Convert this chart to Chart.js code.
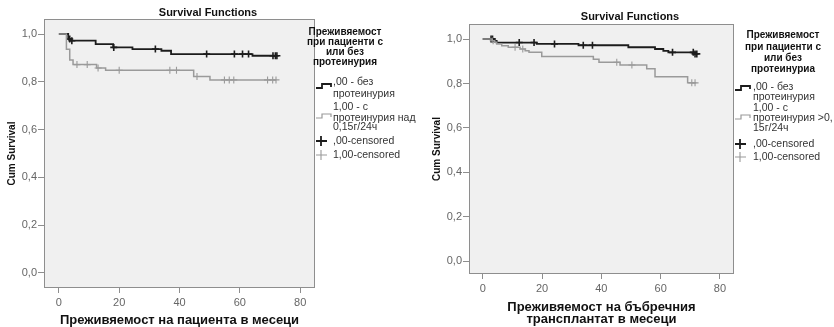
<!DOCTYPE html>
<html>
<head>
<meta charset="utf-8">
<script src="https://cdn.jsdelivr.net/npm/chart.js@4.4.1/dist/chart.umd.min.js"></script>
<style>
  html, body { margin: 0; padding: 0; background: #fff; }
  #wrap { position: relative; width: 834px; height: 327px; overflow: hidden; }
  canvas { position: absolute; top: 0; }
</style>
</head>
<body>
<div id="wrap">
  <canvas id="patient" width="417" height="327" style="left:0"></canvas>
  <canvas id="graft" width="417" height="327" style="left:417px"></canvas>
</div>
<script>
// ---- Kaplan–Meier estimates (time in months, cumulative survival after each step) ----

// Patient survival, group ,00 (no proteinuria)
const patientNoTimes = [0, 3.1, 4.0, 12.2, 18.0, 24.4, 34.0, 37.2, 64.2, 72.3];
const patientNoSurv  = [1.0, 0.979, 0.972, 0.958, 0.944, 0.937, 0.930, 0.916, 0.909, 0.909];
const patientNoCensored = [3.6, 4.3, 18.2, 32.0, 49.0, 58.2, 60.9, 62.9, 71.0, 71.8, 72.3];

// Patient survival, group 1,00 (proteinuria > 0,15 g/24h)
const patientYesTimes = [0, 2.5, 3.6, 4.7, 12.5, 15.5, 44.7, 50.1, 72.0];
const patientYesSurv  = [1.0, 0.936, 0.891, 0.872, 0.858, 0.848, 0.822, 0.808, 0.808];
const patientYesCensored = [6.0, 9.4, 13.0, 20.0, 36.8, 39.0, 45.8, 54.9, 56.5, 58.0, 69.2, 70.9, 72.0];

// Graft survival, group ,00
const graftNoTimes = [0, 3.8, 4.7, 18.2, 32.3, 49.1, 58.1, 60.9, 62.6, 71.2, 72.2];
const graftNoSurv  = [1.0, 0.992, 0.984, 0.978, 0.972, 0.963, 0.955, 0.947, 0.940, 0.933, 0.933];
const graftNoCensored = [2.8, 3.3, 12.3, 17.3, 24.2, 33.9, 37.0, 64.0, 71.0, 71.6, 72.2];

// Graft survival, group 1,00
const graftYesTimes = [0, 3.2, 4.0, 4.7, 6.4, 8.6, 12.6, 14.3, 15.6, 19.9, 37.3, 39.2, 46.3, 55.3, 58.1, 69.1, 72.0];
const graftYesSurv  = [1.0, 0.992, 0.985, 0.978, 0.970, 0.963, 0.955, 0.947, 0.940, 0.921, 0.909, 0.895, 0.883, 0.866, 0.830, 0.803, 0.803];
const graftYesCensored = [3.5, 10.9, 13.5, 45.2, 50.3, 70.5, 71.6];

// ---- Axis ticks ----
const yTickValues = [0, 0.2, 0.4, 0.6, 0.8, 1.0];
const yTickLabels = ['0,0', '0,2', '0,4', '0,6', '0,8', '1,0'];
const xTickValues = [0, 20, 40, 60, 80];
const xTickLabels = ['0', '20', '40', '60', '80'];

// ---- Texts ----
const chartTitle = 'Survival Functions';
const yAxisTitle = 'Cum Survival';
const patientXTitle = 'Преживяемост на пациента в месеци';
const graftXTitle = ['Преживяемост на бъбречния', 'трансплантат в месеци'];
const patientLegendTitle = ['Преживяемост', 'при пациенти с', 'или без', 'протеинурия'];
const graftLegendTitle = ['Преживяемост', 'при пациенти с', 'или без', 'протеинуриа'];
const patientLegendItems = [[',00 - без', 'протеинурия'], ['1,00 - с', 'протеинурия над', '0,15г/24ч'], [',00-censored'], ['1,00-censored']];
const graftLegendItems = [[',00 - без', 'протеинурия'], ['1,00 - с', 'протеинурия >0,', '15г/24ч'], [',00-censored'], ['1,00-censored']];

const FONT = '"Liberation Sans", Arial, sans-serif';
const DARK = '#1c1c1c';
const LIGHT = '#9a9a9a';

function stepPoints(times, surv) {
  return times.map((t, i) => ({ x: t, y: surv[i] }));
}
// survival level in effect at time t (value of the step function)
function levelAt(times, surv, t) {
  let s = surv[0];
  for (let i = 0; i < times.length; i++) if (times[i] <= t) s = surv[i];
  return s;
}
function censorPoints(times, surv, cens) {
  return cens.map(t => ({ x: t, y: levelAt(times, surv, t) }));
}

// plot background, frame, title and legend
const decorPlugin = {
  id: 'decor',
  beforeDraw(chart, args, o) {
    const { ctx, chartArea: a } = chart;
    ctx.save();
    ctx.fillStyle = '#f0f0f0';
    ctx.fillRect(a.left, a.top, a.right - a.left, a.bottom - a.top);
    ctx.restore();
  },
  afterDraw(chart, args, o) {
    const { ctx, chartArea: a } = chart;
    ctx.save();
    ctx.strokeStyle = '#8e8e8e';
    ctx.lineWidth = 1;
    ctx.strokeRect(a.left - 0.5, a.top - 0.5, a.right - a.left + 1, a.bottom - a.top + 1);

    ctx.fillStyle = '#111';
    ctx.font = 'bold 11px ' + FONT;
    ctx.textAlign = 'center';
    ctx.textBaseline = 'middle';
    ctx.fillText(chartTitle, o.titleX, o.titleY);

    ctx.font = 'bold 10px ' + FONT;
    o.legendTitle.forEach((t, i) => ctx.fillText(t, o.legendX, o.legendTitleY[i]));

    ctx.textAlign = 'left';
    ctx.font = '10.5px ' + FONT;
    ctx.fillStyle = '#333';
    o.items.forEach((lines, i) => {
      lines.forEach((t, j) => ctx.fillText(t, o.textX, o.itemY[i][j]));
    });

    const x0 = o.symX, y = o.symY;
    // step symbols
    [[DARK, 1.8, y[0]], [LIGHT, 1.2, y[1]]].forEach(([c, w, yy]) => {
      ctx.strokeStyle = c; ctx.lineWidth = w;
      ctx.beginPath();
      ctx.moveTo(x0, yy); ctx.lineTo(x0 + 6, yy); ctx.lineTo(x0 + 6, yy - 4);
      ctx.lineTo(x0 + 15, yy - 4); ctx.lineTo(x0 + 15, yy - 1);
      ctx.stroke();
    });
    // censor symbols
    [[DARK, 1.8, y[2]], [LIGHT, 1.1, y[3]]].forEach(([c, w, yy]) => {
      ctx.strokeStyle = c; ctx.lineWidth = w;
      ctx.beginPath();
      ctx.moveTo(x0, yy); ctx.lineTo(x0 + 11, yy);
      ctx.moveTo(x0 + 5, yy - 5); ctx.lineTo(x0 + 5, yy + 5);
      ctx.stroke();
    });
    ctx.restore();
  }
};

function makeChart(id, d, L) {
  return new Chart(document.getElementById(id), {
    type: 'line',
    data: {
      datasets: [
        { data: stepPoints(d.yesT, d.yesS), stepped: 'before', borderColor: LIGHT, borderWidth: 1.5, pointRadius: 0, fill: false },
        { data: stepPoints(d.noT, d.noS), stepped: 'before', borderColor: DARK, borderWidth: 1.8, pointRadius: 0, fill: false },
        { data: censorPoints(d.yesT, d.yesS, d.yesC), showLine: false, pointStyle: 'cross', pointRadius: 3.5, borderColor: LIGHT, borderWidth: 1.1 },
        { data: censorPoints(d.noT, d.noS, d.noC), showLine: false, pointStyle: 'cross', pointRadius: 3.5, borderColor: DARK, borderWidth: 1.6 }
      ]
    },
    options: {
      responsive: false,
      animation: false,
      devicePixelRatio: 1,
      events: [],
      layout: { padding: { left: 0, right: L.padRight, top: L.padTop, bottom: 0 } },
      plugins: {
        legend: { display: false },
        tooltip: { enabled: false },
        decor: L.decor
      },
      scales: {
        x: {
          type: 'linear', min: L.xMin, max: L.xMax,
          afterBuildTicks: s => { s.ticks = xTickValues.map(v => ({ value: v })); },
          afterFit: s => { s.height = L.xAxisHeight; },
          grid: { drawOnChartArea: false, drawTicks: true, tickLength: 6, color: '#8e8e8e' },
          border: { display: false },
          ticks: { padding: 3, maxRotation: 0, autoSkip: false, color: '#666', font: { family: FONT, size: 11 },
                   callback: v => xTickLabels[xTickValues.indexOf(v)] },
          title: { display: true, text: L.xTitle, color: '#111', padding: { top: 0, bottom: L.xTitlePad },
                   font: { family: FONT, size: 13, weight: 'bold', lineHeight: L.xTitleLH } }
        },
        y: {
          type: 'linear', min: L.yMin, max: L.yMax,
          afterBuildTicks: s => { s.ticks = yTickValues.map(v => ({ value: v })); },
          afterFit: s => { s.width = L.yAxisWidth; },
          grid: { drawOnChartArea: false, drawTicks: true, tickLength: 7, color: '#8e8e8e' },
          border: { display: false },
          ticks: { padding: 1, color: '#666', font: { family: FONT, size: 11 },
                   callback: v => yTickLabels[yTickValues.indexOf(v)] },
          title: { display: true, text: yAxisTitle, color: '#111', padding: { top: L.yTitlePad, bottom: 0 },
                   font: { family: FONT, size: 10, weight: 'bold', lineHeight: '12px' } }
        }
      }
    },
    plugins: [decorPlugin]
  });
}

makeChart('patient',
  { noT: patientNoTimes, noS: patientNoSurv, noC: patientNoCensored,
    yesT: patientYesTimes, yesS: patientYesSurv, yesC: patientYesCensored },
  { padRight: 103, padTop: 20, xAxisHeight: 40, yAxisWidth: 45,
    xMin: -4.6, xMax: 84.6, yMin: -0.0586, yMax: 1.0586,
    xTitle: patientXTitle, xTitlePad: 0, xTitleLH: '14px', yTitlePad: 6,
    decor: { titleX: 208, titleY: 13, legendX: 345, legendTitle: patientLegendTitle,
             legendTitleY: [32, 42, 52, 62], items: patientLegendItems,
             textX: 333, itemY: [[82, 94], [107, 118, 127], [141], [155]],
             symX: 316, symY: [88, 118, 141, 155] } });

makeChart('graft',
  { noT: graftNoTimes, noS: graftNoSurv, noC: graftNoCensored,
    yesT: graftYesTimes, yesS: graftYesSurv, yesC: graftYesCensored },
  { padRight: 101, padTop: 25, xAxisHeight: 54, yAxisWidth: 53,
    xMin: -4.3, xMax: 84.4, yMin: -0.052, yMax: 1.063,
    xTitle: graftXTitle, xTitlePad: 2, xTitleLH: '12px', yTitlePad: 14,
    decor: { titleX: 213, titleY: 17, legendX: 366, legendTitle: graftLegendTitle,
             legendTitleY: [35, 47, 58, 69], items: graftLegendItems,
             textX: 336, itemY: [[87, 97], [108, 118, 128], [144], [157]],
             symX: 318, symY: [90, 119, 144, 157] } });
</script>
</body>
</html>
